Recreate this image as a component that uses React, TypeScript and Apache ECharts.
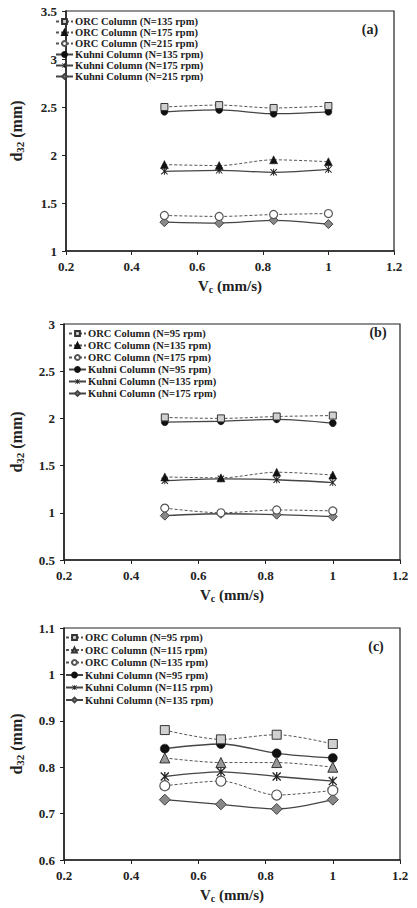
import React, { useEffect, useRef } from "react";
import * as echarts from "echarts";

// Continuous-phase velocity Vc (mm/s)
const vcValues = [0.5, 0.667, 0.833, 1.0];

// Panel (a): d32 (mm)
const orcA135 = [2.5, 2.52, 2.49, 2.51];
const orcA175 = [1.9, 1.89, 1.95, 1.93];
const orcA215 = [1.37, 1.36, 1.38, 1.39];
const kuhniA135 = [2.45, 2.47, 2.43, 2.45];
const kuhniA175 = [1.83, 1.84, 1.82, 1.85];
const kuhniA215 = [1.3, 1.29, 1.32, 1.28];
const namesA = [
  "ORC Column (N=135 rpm)",
  "ORC Column (N=175 rpm)",
  "ORC Column (N=215 rpm)",
  "Kuhni Column (N=135 rpm)",
  "Kuhni Column (N=175 rpm)",
  "Kuhni Column (N=215 rpm)",
];

// Panel (b): d32 (mm)
const orcB95 = [2.01, 2.0, 2.02, 2.03];
const orcB135 = [1.38, 1.37, 1.43, 1.4];
const orcB175 = [1.05, 1.0, 1.03, 1.02];
const kuhniB95 = [1.96, 1.97, 1.99, 1.95];
const kuhniB135 = [1.34, 1.36, 1.35, 1.32];
const kuhniB175 = [0.97, 0.99, 0.98, 0.96];
const namesB = [
  "ORC Column (N=95 rpm)",
  "ORC Column (N=135 rpm)",
  "ORC Column (N=175 rpm)",
  "Kuhni Column (N=95 rpm)",
  "Kuhni Column (N=135 rpm)",
  "Kuhni Column (N=175 rpm)",
];

// Panel (c): d32 (mm)
const orcC95 = [0.88, 0.86, 0.87, 0.85];
const orcC115 = [0.82, 0.81, 0.81, 0.8];
const orcC135 = [0.76, 0.77, 0.74, 0.75];
const kuhniC95 = [0.84, 0.85, 0.83, 0.82];
const kuhniC115 = [0.78, 0.79, 0.78, 0.77];
const kuhniC135 = [0.73, 0.72, 0.71, 0.73];
const namesC = [
  "ORC Column (N=95 rpm)",
  "ORC Column (N=115 rpm)",
  "ORC Column (N=135 rpm)",
  "Kuhni Column (N=95 rpm)",
  "Kuhni Column (N=115 rpm)",
  "Kuhni Column (N=135 rpm)",
];

const FONT = "'Liberation Serif', 'Times New Roman', serif";
const STAR =
  "path://M4.3,0H5.7V10H4.3Z M0,1L1,0L10,9L9,10Z M9,0L10,1L1,10L0,9Z";

type Panel = {
  top: number;
  height: number;
  grid: { left: number; right: number; top: number; bottom: number };
  yMin: number;
  yMax: number;
  yInterval: number;
  names: string[];
  values: number[][];
  legendLeft: number;
  legendTop: number;
  legendGap: number;
  letter: string;
  letterX: number;
  letterY: number;
  mark: number;
  greyTriangle: boolean;
  yNameGap: number;
  xNameGap: number;
};

const panels: Panel[] = [
  {
    top: 0,
    height: 300,
    grid: { left: 46, right: 23, top: 11, bottom: 49 },
    yMin: 1,
    yMax: 3.5,
    yInterval: 0.5,
    names: namesA,
    values: [orcA135, orcA175, orcA215, kuhniA135, kuhniA175, kuhniA215],
    legendLeft: 55,
    legendTop: 16,
    legendGap: 0,
    letter: "(a)",
    letterX: 370,
    letterY: 29,
    mark: 7,
    greyTriangle: false,
    yNameGap: 41,
    xNameGap: 26,
  },
  {
    top: 300,
    height: 308,
    grid: { left: 52, right: 17, top: 24, bottom: 45 },
    yMin: 0.5,
    yMax: 3,
    yInterval: 0.5,
    names: namesB,
    values: [orcB95, orcB135, orcB175, kuhniB95, kuhniB135, kuhniB175],
    legendLeft: 68,
    legendTop: 28,
    legendGap: 1,
    letter: "(b)",
    letterX: 378,
    letterY: 32,
    mark: 7,
    greyTriangle: false,
    yNameGap: 39,
    xNameGap: 26,
  },
  {
    top: 600,
    height: 308,
    grid: { left: 50, right: 17, top: 28, bottom: 41 },
    yMin: 0.6,
    yMax: 1.1,
    yInterval: 0.1,
    names: namesC,
    values: [orcC95, orcC115, orcC135, kuhniC95, kuhniC115, kuhniC135],
    legendLeft: 65,
    legendTop: 32,
    legendGap: 1.5,
    letter: "(c)",
    letterX: 376,
    letterY: 46,
    mark: 9,
    greyTriangle: true,
    yNameGap: 39,
    xNameGap: 26,
  },
];

function buildOption(p: Panel): echarts.EChartsCoreOption {
  const m = p.mark;
  const orcLine = { type: [3, 2] as any, color: "#555", width: 1 };
  const kuhniLine = { type: "solid" as any, color: "#444", width: 1.3 };
  const styles = [
    { symbol: "rect", size: m, item: { color: "#d0d0d0", borderColor: "#333", borderWidth: 1 }, line: orcLine },
    {
      symbol: "triangle",
      size: m + 1,
      item: p.greyTriangle
        ? { color: "#999", borderColor: "#333", borderWidth: 1 }
        : { color: "#111", borderColor: "#111", borderWidth: 0.5 },
      line: orcLine,
    },
    { symbol: "circle", size: m + 1, item: { color: "#fff", borderColor: "#555", borderWidth: 1.2 }, line: orcLine },
    { symbol: "circle", size: m, item: { color: "#111", borderColor: "#111", borderWidth: 0.5 }, line: kuhniLine },
    { symbol: STAR, size: m, item: { color: "#222", borderWidth: 0 }, line: kuhniLine },
    { symbol: "diamond", size: m + 2, item: { color: "#888", borderColor: "#444", borderWidth: 1 }, line: kuhniLine },
  ];

  const series = p.names.map((name, i) => ({
    type: "line",
    name,
    data: vcValues.map((x, k) => [x, p.values[i][k]]),
    symbol: styles[i].symbol,
    symbolSize: styles[i].size,
    itemStyle: styles[i].item,
    lineStyle: styles[i].line,
    smooth: 0.3,
    z: 10 - i,
  }));

  const axisText = { fontFamily: FONT, fontWeight: "bold" as const, fontSize: 13, color: "#222" };

  return {
    animation: false,
    backgroundColor: "transparent",
    grid: { ...p.grid, show: true, borderColor: "#222", borderWidth: 1.2, backgroundColor: "transparent" },
    legend: {
      orient: "vertical",
      left: p.legendLeft,
      top: p.legendTop,
      data: p.names,
      itemWidth: 17,
      itemHeight: 6,
      itemGap: p.legendGap,
      padding: 0,
      selectedMode: false,
      textStyle: { fontFamily: FONT, fontWeight: "bold", fontSize: 10.5, color: "#222", padding: [0, 0, 0, -3] },
    },
    xAxis: {
      type: "value",
      min: 0.2,
      max: 1.2,
      interval: 0.2,
      splitLine: { show: false },
      axisLine: { lineStyle: { color: "#222", width: 1.5 } },
      axisTick: { inside: false, length: 4, lineStyle: { color: "#222" } },
      axisLabel: { ...axisText, margin: 9 },
      name: "{a|V}{s|c}{a| (mm/s)}",
      nameLocation: "middle",
      nameGap: p.xNameGap,
      nameTextStyle: {
        rich: {
          a: { fontFamily: FONT, fontWeight: "bold", fontSize: 15, color: "#222" },
          s: { fontFamily: FONT, fontWeight: "bold", fontSize: 10, color: "#222", padding: [7, 0, 0, 0] },
        },
      },
    },
    yAxis: {
      type: "value",
      min: p.yMin,
      max: p.yMax,
      interval: p.yInterval,
      splitLine: { show: false },
      axisLine: { show: true, lineStyle: { color: "#222", width: 1.5 } },
      axisTick: { show: true, inside: false, length: 4, lineStyle: { color: "#222" } },
      axisLabel: { ...axisText, margin: 9 },
      name: "{a|d}{s|32}{a| (mm)}",
      nameLocation: "middle",
      nameRotate: 90,
      nameGap: p.yNameGap,
      nameTextStyle: {
        rich: {
          a: { fontFamily: FONT, fontWeight: "bold", fontSize: 16, color: "#222" },
          s: { fontFamily: FONT, fontWeight: "bold", fontSize: 11, color: "#222", padding: [7, 0, 0, 0] },
        },
      },
    },
    graphic: [
      {
        type: "text",
        x: p.letterX,
        y: p.letterY,
        style: {
          text: p.letter,
          font: `bold 14px ${FONT}`,
          fill: "#222",
          textAlign: "center",
          textVerticalAlign: "middle",
        },
      },
    ],
    series,
  };
}

function ChartPanel({ panel }: { panel: Panel }) {
  const ref = useRef<HTMLDivElement>(null);
  useEffect(() => {
    if (!ref.current) return;
    const chart = echarts.init(ref.current, undefined, { renderer: "svg" });
    chart.setOption(buildOption(panel));
    return () => chart.dispose();
  }, [panel]);
  return (
    <div
      ref={ref}
      style={{ position: "absolute", left: 0, top: panel.top, width: 417, height: panel.height }}
    />
  );
}

export default function App() {
  return (
    <div style={{ position: "absolute", left: 0, top: 0, width: 417, height: 908, background: "#fff" }}>
      {panels.map((p) => (
        <ChartPanel key={p.letter} panel={p} />
      ))}
    </div>
  );
}
